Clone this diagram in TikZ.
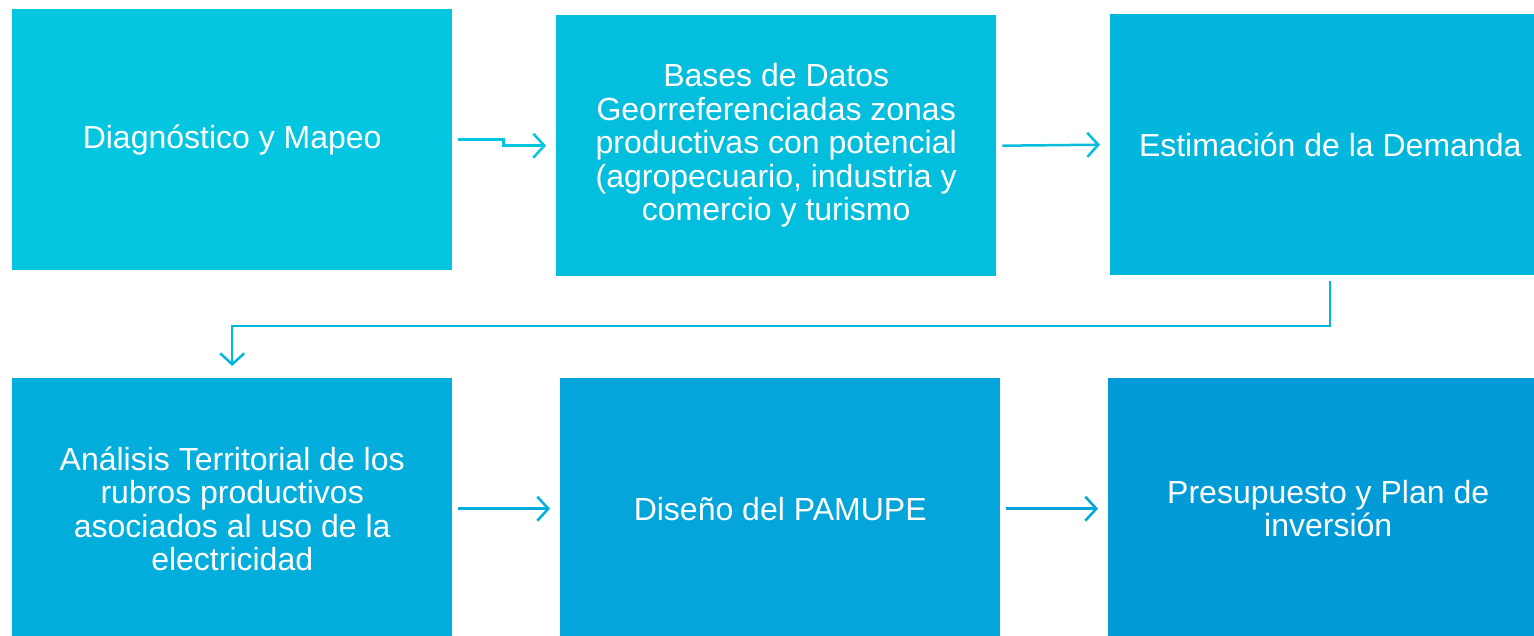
\documentclass[tikz,border=0pt]{standalone}
\usepackage{fontspec}
\setmainfont{Liberation Sans}
\usetikzlibrary{arrows.meta}
\definecolor{cA}{HTML}{05C6E0}
\definecolor{cB}{HTML}{04BEDE}
\definecolor{cC}{HTML}{03B6DC}
\definecolor{cD}{HTML}{04AEDC}
\definecolor{cE}{HTML}{03A5DA}
\definecolor{cF}{HTML}{029BD8}
\tikzset{
  stepbox/.style={minimum width=440pt, minimum height=261pt, inner sep=0pt, text=white,
    align=center, font=\fontsize{32pt}{33.5pt}\selectfont, anchor=north west},
  arr/.style={line width=2.5pt, -{Straight Barb[length=11pt,width=24pt]}},
}
\begin{document}
\begin{tikzpicture}[x=1pt,y=1pt]
\useasboundingbox (0,0) rectangle (1534,-636);
\clip (0,0) rectangle (1534,-636);
\node[stepbox, fill=cA] (b1) at (12,-9) {Diagnóstico y Mapeo};
\node[stepbox, fill=cB] (b2) at (556,-15) {Bases de Datos\\Georreferenciadas zonas\\productivas con potencial\\(agropecuario, industria y\\comercio y turismo};
\node[stepbox, fill=cC] (b3) at (1110,-14) {Estimación de la Demanda};
\node[stepbox, fill=cD] (b4) at (12,-378) {Análisis Territorial de los\\rubros productivos\\asociados al uso de la\\electricidad};
\node[stepbox, fill=cE] (b5) at (560,-378) {Diseño del PAMUPE};
\node[stepbox, fill=cF] (b6) at (1108,-378) {Presupuesto y Plan de\\inversión};
\draw[arr, cA] ([xshift=6pt]b1.east) -- ++(45,0) |- ([xshift=-10pt]b2.west);
\draw[arr, cB] ([xshift=6pt]b2.east) -- ([xshift=-10pt]b3.west);
\coordinate (k) at (0,-326);
\draw[arr, cC] ([yshift=-6pt]b3.south) |- (k -| b4.north) -- ([yshift=12pt]b4.north);
\draw[arr, cD] ([xshift=6pt]b4.east) -- ([xshift=-10pt]b5.west);
\draw[arr, cE] ([xshift=6pt]b5.east) -- ([xshift=-10pt]b6.west);
\end{tikzpicture}
\end{document}
